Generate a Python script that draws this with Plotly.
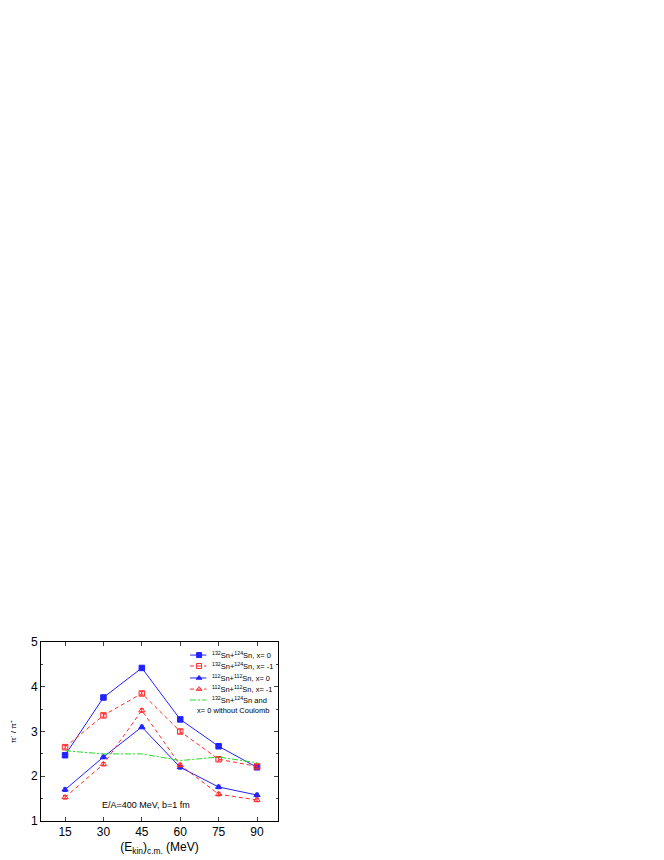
import plotly.graph_objects as go

energies = [15, 30, 45, 60, 75, 90]
sn132_x0 = [2.47, 3.76, 4.42, 3.27, 2.67, 2.20]
sn132_xm1 = [2.65, 3.36, 3.85, 3.00, 2.38, 2.22]
sn112_x0 = [1.70, 2.43, 3.10, 2.20, 1.76, 1.58]
sn112_xm1 = [1.53, 2.27, 3.47, 2.25, 1.60, 1.47]
sn132_nocoul = [2.57, 2.50, 2.50, 2.35, 2.43, 2.30]
err = [0.04, 0.04, 0.04, 0.04, 0.04, 0.04]

labels = [
    "<sup>132</sup>Sn+<sup>124</sup>Sn, x= 0",
    "<sup>132</sup>Sn+<sup>124</sup>Sn, x= -1",
    "<sup>112</sup>Sn+<sup>112</sup>Sn, x= 0",
    "<sup>112</sup>Sn+<sup>112</sup>Sn, x= -1",
    "<sup>132</sup>Sn+<sup>124</sup>Sn and",
]
label_extra = "x= 0 without Coulomb"

BLUE = "#2222ff"
RED = "#ff2a2a"
GREEN = "#22dd22"
DASH = "4px,3px"
DASHDOT = "6px,2px,2px,2px"

series = [
    (sn132_x0, BLUE, "solid", "square", True),
    (sn132_xm1, RED, DASH, "square-open", True),
    (sn112_x0, BLUE, "solid", "triangle-up", True),
    (sn112_xm1, RED, DASH, "triangle-up-open", True),
    (sn132_nocoul, GREEN, DASHDOT, None, False),
]

fig = go.Figure()

for (y, color, dash, symbol, errs), name in zip(series, labels):
    fig.add_trace(go.Scatter(
        x=energies, y=y, name=name, showlegend=False,
        mode="lines+markers" if symbol else "lines",
        line=dict(color=color, width=1, dash=dash),
        marker=dict(symbol=symbol or "circle", size=5.5, color=color,
                    line=dict(color=color, width=1)),
        error_y=dict(type="data", array=err, visible=errs, color=color, thickness=1, width=2),
    ))

# manual compact legend (on hidden overlay axes in [0,1] space)
row_y = [0.927, 0.866, 0.799, 0.737, 0.676]
for (y, color, dash, symbol, errs), name, ry in zip(series, labels, row_y):
    fig.add_trace(go.Scatter(
        x=[0.629, 0.698], y=[ry, ry], xaxis="x2", yaxis="y2", showlegend=False,
        mode="lines", line=dict(color=color, width=1, dash=dash), hoverinfo="skip"))
    if symbol:
        fig.add_trace(go.Scatter(
            x=[0.667], y=[ry], xaxis="x2", yaxis="y2", showlegend=False, mode="markers",
            marker=dict(symbol=symbol, size=5, color=color, line=dict(color=color, width=1)),
            hoverinfo="skip"))
    fig.add_annotation(x=0.712, y=ry, xref="x2", yref="y2", text=name, showarrow=False,
                       xanchor="left", yanchor="middle", font=dict(size=7.5, color="black"))
fig.add_annotation(x=0.648, y=0.615, xref="x2", yref="y2", text=label_extra, showarrow=False,
                   xanchor="left", yanchor="middle", font=dict(size=7.5, color="black"))

fig.add_annotation(x=46.8, y=1.36, xref="x", yref="y", text="E/A=400 MeV, b=1 fm",
                   showarrow=False, font=dict(size=9, color="black"))

fig.update_layout(
    width=656, height=852,
    paper_bgcolor="white", plot_bgcolor="white",
    margin=dict(l=33, r=386, t=634, b=39),
    font=dict(family="Liberation Sans, Arial, sans-serif", color="black"),
    showlegend=False,
    xaxis=dict(range=[5.6, 98.2], tickvals=energies, ticks="inside", ticklen=4,
               showline=True, linecolor="black", linewidth=1, mirror="ticks",
               showgrid=False, zeroline=False, tickfont=dict(size=12), automargin=False,
               title=dict(text="(E<sub>kin</sub>)<sub>c.m.</sub> (MeV)", font=dict(size=12), standoff=4)),
    yaxis=dict(range=[1, 5], dtick=1, ticks="inside", ticklen=4,
               minor=dict(dtick=0.5, ticks="inside", ticklen=2, showgrid=False),
               showline=True, linecolor="black", linewidth=1, mirror="ticks",
               showgrid=False, zeroline=False, tickfont=dict(size=12), automargin=False,
               title=dict(text="π<sup>-</sup> / π<sup>+</sup>", font=dict(size=8), standoff=21)),
    xaxis2=dict(overlaying="x", range=[0, 1], visible=False, fixedrange=True),
    yaxis2=dict(overlaying="y", range=[0, 1], visible=False, fixedrange=True),
)

fig.write_html("out.html")
